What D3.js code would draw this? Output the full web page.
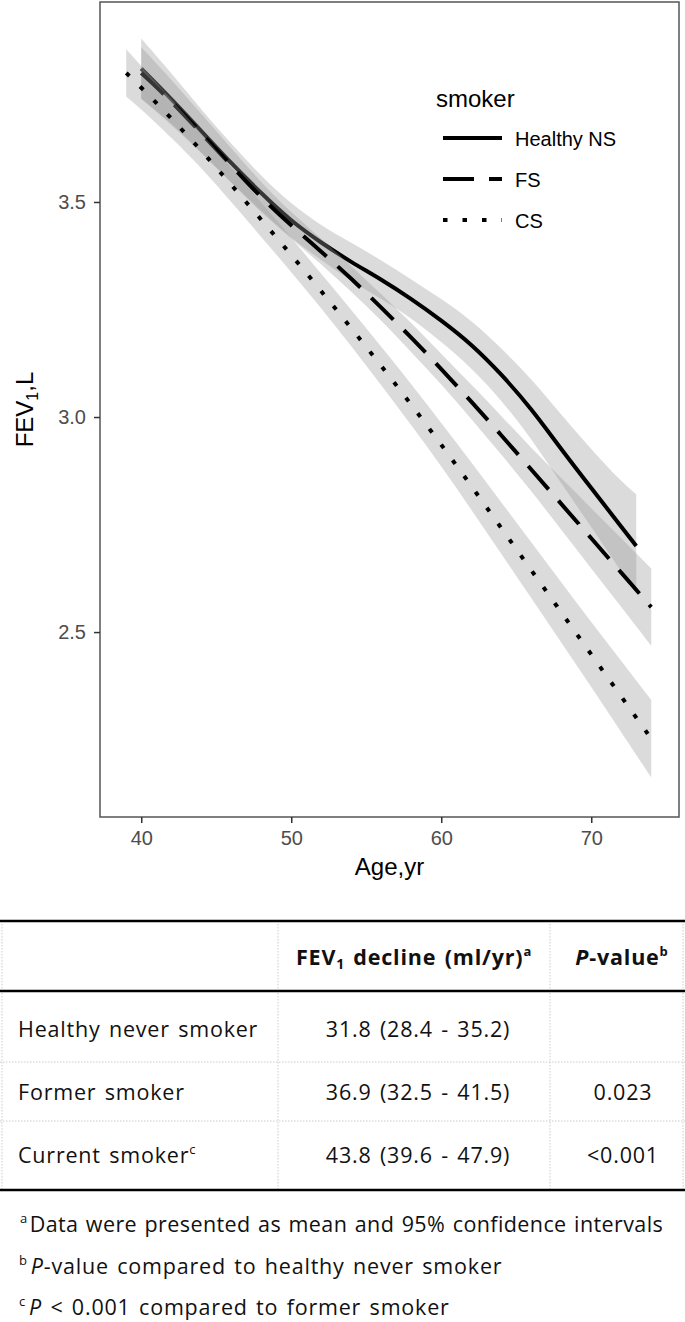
<!DOCTYPE html>
<html>
<head>
<meta charset="utf-8">
<script src="https://cdn.jsdelivr.net/npm/d3@7"></script>
<style>
  body { margin: 0; background: #fff; }
  svg { display: block; }
</style>
</head>
<body>
<script>
// smoothed FEV1 curves (fit, lower and upper 95% band)
const hnsAge = [40, 42, 44, 46, 48, 50, 52, 54, 56, 58, 60, 62, 64, 66, 68, 70, 72, 73];
const hnsFit = [3.81, 3.74, 3.665, 3.59, 3.52, 3.455, 3.405, 3.36, 3.32, 3.275, 3.225, 3.17, 3.10, 3.02, 2.925, 2.835, 2.745, 2.70];
const hnsLo  = [3.74, 3.68, 3.615, 3.545, 3.48, 3.415, 3.365, 3.315, 3.275, 3.23, 3.175, 3.115, 3.04, 2.95, 2.845, 2.745, 2.64, 2.59];
const hnsHi  = [3.88, 3.80, 3.715, 3.635, 3.56, 3.495, 3.445, 3.405, 3.365, 3.32, 3.275, 3.225, 3.16, 3.09, 3.005, 2.925, 2.85, 2.82];

const fsAge = [40, 42, 44, 46, 48, 50, 52, 54, 56, 58, 60, 62, 64, 66, 68, 70, 72, 74];
const fsFit = [3.80, 3.735, 3.66, 3.585, 3.51, 3.445, 3.385, 3.322, 3.255, 3.185, 3.112, 3.036, 2.958, 2.878, 2.798, 2.718, 2.638, 2.558];
const fsLo  = [3.74, 3.685, 3.615, 3.545, 3.475, 3.415, 3.355, 3.292, 3.225, 3.15, 3.077, 2.996, 2.913, 2.828, 2.738, 2.648, 2.558, 2.468];
const fsHi  = [3.86, 3.785, 3.705, 3.625, 3.545, 3.475, 3.415, 3.352, 3.285, 3.22, 3.147, 3.076, 3.003, 2.928, 2.858, 2.788, 2.718, 2.648];

const csAge = [39, 40, 42, 44, 46, 48, 50, 52, 54, 56, 58, 60, 62, 64, 66, 68, 70, 72, 74];
const csFit = [3.80, 3.766, 3.695, 3.62, 3.54, 3.459, 3.377, 3.293, 3.207, 3.119, 3.029, 2.936, 2.84, 2.742, 2.644, 2.546, 2.448, 2.35, 2.252];
const csLo  = [3.745, 3.716, 3.65, 3.58, 3.50, 3.419, 3.337, 3.253, 3.165, 3.074, 2.981, 2.886, 2.785, 2.682, 2.579, 2.476, 2.373, 2.267, 2.162];
const csHi  = [3.855, 3.816, 3.74, 3.66, 3.58, 3.499, 3.417, 3.333, 3.249, 3.164, 3.077, 2.986, 2.895, 2.802, 2.709, 2.616, 2.523, 2.433, 2.342];

const groups = ["Healthy NS", "FS", "CS"];
const xTicks = [40, 50, 60, 70];
const yTicks = [2.5, 3.0, 3.5];

// table below the plot
const rowLabels = ["Healthy never smoker", "Former smoker", "Current smoker"];
const declines  = ["31.8 (28.4 - 35.2)", "36.9 (32.5 - 41.5)", "43.8 (39.6 - 47.9)"];
const pValues   = ["", "0.023", "<0.001"];

const plotFont = "'Liberation Sans', Arial, sans-serif";
const tabFont = "'Open Sans', 'Noto Sans', sans-serif";

const svg = d3.select("body").append("svg")
    .attr("width", 685)
    .attr("height", 1322);

const panel = {left: 100, right: 679, top: 2, bottom: 817};

const x = d3.scaleLinear().domain([37.25, 75.85]).range([panel.left, panel.right]);
const y = d3.scaleLinear().domain([2.07, 3.965]).range([panel.bottom, panel.top]);

svg.append("clipPath").attr("id", "clip")
  .append("rect")
    .attr("x", panel.left).attr("y", panel.top)
    .attr("width", panel.right - panel.left).attr("height", panel.bottom - panel.top);

function rows(age, fit, lo, hi) {
  return age.map((a, i) => ({age: a, fit: fit[i], lo: lo[i], hi: hi[i]}));
}
const series = [
  {name: groups[0], dash: null, data: rows(hnsAge, hnsFit, hnsLo, hnsHi)},
  {name: groups[1], dash: "31,15", data: rows(fsAge, fsFit, fsLo, fsHi)},
  {name: groups[2], dash: "4.5,15", data: rows(csAge, csFit, csLo, csHi)}
];

const band = d3.area()
    .x(d => x(d.age))
    .y0(d => y(d.lo))
    .y1(d => y(d.hi))
    .curve(d3.curveBasis);
const line = d3.line()
    .x(d => x(d.age))
    .y(d => y(d.fit))
    .curve(d3.curveBasis);

const plot = svg.append("g").attr("clip-path", "url(#clip)");

// each group: ribbon first, then its line (later ribbons cover earlier lines)
series.forEach(s => {
  plot.append("path")
      .datum(s.data)
      .attr("d", band)
      .attr("fill", "#999")
      .attr("fill-opacity", 0.35);
  plot.append("path")
      .datum(s.data)
      .attr("d", line)
      .attr("fill", "none")
      .attr("stroke", "#000")
      .attr("stroke-width", 4)
      .attr("stroke-dasharray", s.dash);
});

// panel border
svg.append("rect")
    .attr("x", panel.left).attr("y", panel.top)
    .attr("width", panel.right - panel.left).attr("height", panel.bottom - panel.top)
    .attr("fill", "none")
    .attr("stroke", "#555")
    .attr("stroke-width", 1.5);

// axes
const xAxis = svg.append("g")
    .attr("transform", `translate(0,${panel.bottom})`)
    .call(d3.axisBottom(x).tickValues(xTicks).tickSize(6).tickSizeOuter(0).tickPadding(8));
const yAxis = svg.append("g")
    .attr("transform", `translate(${panel.left},0)`)
    .call(d3.axisLeft(y).tickValues(yTicks).tickSize(6).tickSizeOuter(0).tickPadding(8)
      .tickFormat(d3.format(".1f")));

[xAxis, yAxis].forEach(g => {
  g.select(".domain").remove();
  g.selectAll(".tick line").attr("stroke", "#333").attr("stroke-width", 1.5);
  g.selectAll(".tick text")
      .attr("font-family", plotFont)
      .attr("font-size", "20px")
      .attr("fill", "#4d4d4d");
});

svg.append("text")
    .attr("x", (panel.left + panel.right) / 2)
    .attr("y", 875)
    .attr("text-anchor", "middle")
    .attr("font-family", plotFont)
    .attr("font-size", "24px")
    .text("Age,yr");

const yTitle = svg.append("text")
    .attr("transform", `translate(33,${(panel.top + panel.bottom) / 2}) rotate(-90)`)
    .attr("text-anchor", "middle")
    .attr("font-family", plotFont)
    .attr("font-size", "24px");
yTitle.append("tspan").text("FEV");
yTitle.append("tspan").attr("font-size", "16px").attr("dy", 5).text("1");
yTitle.append("tspan").attr("dy", -5).text(",L");

// legend
const legend = svg.append("g");
legend.append("text")
    .attr("x", 436).attr("y", 107)
    .attr("font-family", plotFont)
    .attr("font-size", "24px")
    .text("smoker");
series.forEach((s, i) => {
  const ly = 138 + i * 41;
  legend.append("line")
      .attr("x1", 443).attr("x2", 502)
      .attr("y1", ly).attr("y2", ly)
      .attr("stroke", "#000")
      .attr("stroke-width", 4)
      .attr("stroke-dasharray", s.dash);
  legend.append("text")
      .attr("x", 515).attr("y", ly + 8)
      .attr("font-family", plotFont)
      .attr("font-size", "20px")
      .text(s.name);
});

// table
const tab = svg.append("g")
    .attr("font-family", tabFont)
    .attr("font-size", "21.5px")
    .attr("letter-spacing", "0.8px")
    .attr("word-spacing", "2px")
    .attr("fill", "#111");
const colX = [2, 278, 550, 683];
const lineY = [921, 991, 1062, 1121, 1190];

colX.forEach(cx => {
  tab.append("line")
      .attr("x1", cx).attr("x2", cx)
      .attr("y1", lineY[0]).attr("y2", lineY[4])
      .attr("stroke", "#ccc").attr("stroke-width", 1)
      .attr("stroke-dasharray", "1.5,1.5");
});
[lineY[2], lineY[3]].forEach(ly => {
  tab.append("line")
      .attr("x1", 0).attr("x2", 685)
      .attr("y1", ly).attr("y2", ly)
      .attr("stroke", "#ccc").attr("stroke-width", 1)
      .attr("stroke-dasharray", "1.5,1.5");
});
[lineY[0], lineY[1], lineY[4]].forEach(ly => {
  tab.append("line")
      .attr("x1", 0).attr("x2", 685)
      .attr("y1", ly).attr("y2", ly)
      .attr("stroke", "#000").attr("stroke-width", 2.5);
});

const head1 = tab.append("text")
    .attr("x", 414).attr("y", 965)
    .attr("text-anchor", "middle")
    .attr("font-weight", "bold");
head1.append("tspan").text("FEV");
head1.append("tspan").attr("font-size", "14px").attr("dy", 4).text("1");
head1.append("tspan").attr("dy", -4).text(" decline (ml/yr)");
head1.append("tspan").attr("font-size", "13px").attr("dy", -9).text("a");

const head2 = tab.append("text")
    .attr("x", 622).attr("y", 965)
    .attr("text-anchor", "middle")
    .attr("font-weight", "bold");
head2.append("tspan").attr("font-style", "italic").text("P");
head2.append("tspan").text("-value");
head2.append("tspan").attr("font-size", "13px").attr("dy", -9).text("b");

const rowBase = [1037, 1100, 1163];
rowLabels.forEach((r, i) => {
  const t = tab.append("text").attr("x", 18).attr("y", rowBase[i]).text(r);
  if (i === 2) t.append("tspan").attr("font-size", "13px").attr("dy", -9).text("c");
  tab.append("text").attr("x", 418).attr("y", rowBase[i]).attr("text-anchor", "middle").text(declines[i]);
  tab.append("text").attr("x", 623).attr("y", rowBase[i]).attr("text-anchor", "middle").text(pValues[i]);
});

// footnotes
const f1 = tab.append("text").attr("x", 20).attr("y", 1232)
    .attr("letter-spacing", "0.4px").attr("word-spacing", "1.5px");
f1.append("tspan").attr("font-size", "13px").attr("dy", -9).text("a");
f1.append("tspan").attr("dy", 9).attr("dx", 2).text("Data were presented as mean and 95% confidence intervals");

const f2 = tab.append("text").attr("x", 19).attr("y", 1274);
f2.append("tspan").attr("font-size", "13px").attr("dy", -9).text("b");
f2.append("tspan").attr("dy", 9).attr("dx", 3).attr("font-style", "italic").text("P");
f2.append("tspan").text("-value compared to healthy never smoker");

const f3 = tab.append("text").attr("x", 19).attr("y", 1315);
f3.append("tspan").attr("font-size", "13px").attr("dy", -9).text("c");
f3.append("tspan").attr("dy", 9).attr("dx", 3).attr("font-style", "italic").text("P");
f3.append("tspan").text(" < 0.001 compared to former smoker");
</script>
</body>
</html>
